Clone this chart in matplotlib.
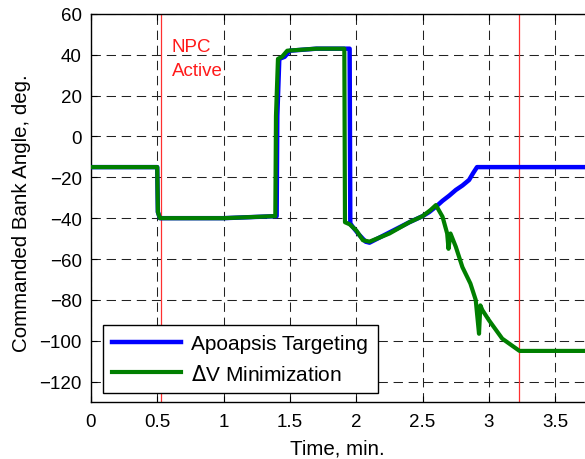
import matplotlib
matplotlib.use("Agg")
import matplotlib.pyplot as plt

plt.rcParams['font.family'] = ['Liberation Sans', 'DejaVu Sans']

# Apoapsis Targeting
t_apo = [0.0, 0.50, 0.505, 0.52, 0.6, 1.0, 1.40, 1.405, 1.42, 1.46, 1.50, 1.70, 1.95, 1.955,
         1.97, 2.02, 2.07, 2.10, 2.25, 2.40, 2.50, 2.55, 2.60, 2.65, 2.70, 2.75, 2.80,
         2.85, 2.88, 2.91, 3.0, 3.5, 4.0]
v_apo = [-15, -15, -37, -40, -40, -40, -39, 10, 38, 39, 42, 43, 43, -42.5,
         -44, -48, -51.5, -52, -47, -42, -39, -37, -34.4, -31.5, -29, -26.2, -24,
         -21.3, -18, -15, -15, -15, -15]

# Delta-V Minimization
t_dv = [0.0, 0.50, 0.505, 0.52, 0.6, 1.0, 1.39, 1.395, 1.41, 1.44, 1.48, 1.70, 1.91, 1.915,
        1.95, 2.0, 2.05, 2.10, 2.25, 2.40, 2.50, 2.56, 2.60, 2.65, 2.685, 2.695, 2.71,
        2.75, 2.80, 2.86, 2.90, 2.925, 2.935, 2.95, 3.0, 3.1, 3.23, 3.5, 4.0]
v_dv = [-15, -15, -37, -40, -40, -40, -39, 10, 38, 39, 42, 43, 43, -42,
        -43, -46, -50.8, -51.5, -47.5, -42, -39, -36, -33.6, -39.3, -47.5, -55, -47.5,
        -54, -64, -72, -80, -96.6, -82.7, -85, -90, -99, -105, -105, -105]

npc_lines = [0.53, 3.23]

fig = plt.figure(figsize=(5.85, 4.6), dpi=100)
ax = fig.add_axes([0.1553, 0.124, 0.9074, 0.8435])

ax.plot(t_apo, v_apo, color='#0000ff', lw=3.2, label='Apoapsis Targeting', zorder=3)
ax.plot(t_dv, v_dv, color='#007f00', lw=3.0, label=r'$\Delta$V Minimization', zorder=4)
for xv in npc_lines:
    ax.axvline(xv, color='#ff3030', lw=0.9, zorder=2)

ax.text(0.61, 44, 'NPC', color='#ff1a1a', fontsize=13.5, va='center', ha='left')
ax.text(0.61, 32.5, 'Active', color='#ff1a1a', fontsize=13.5, va='center', ha='left')

ax.set_xlim(0, 4)
ax.set_ylim(-130, 60)
ax.set_xticks([0, 0.5, 1, 1.5, 2, 2.5, 3, 3.5])
ax.set_xticklabels(['0', '0.5', '1', '1.5', '2', '2.5', '3', '3.5'])
ax.set_yticks(list(range(-120, 61, 20)))
ax.grid(True, color='#222222', linestyle=(0, (9, 5.5)), lw=0.75)
ax.tick_params(direction='in', top=True, right=True, labelsize=13.5, length=4)
ax.tick_params(axis='x', pad=8)
ax.tick_params(axis='y', pad=6.5)
for s in ax.spines.values():
    s.set_linewidth(1.0)

ax.set_xlabel('Time, min.', fontsize=14.8)
ax.xaxis.set_label_coords(0.464, -0.094)
ax.set_ylabel('Commanded Bank Angle, deg.', fontsize=14.8)
ax.yaxis.set_label_coords(-0.113, 0.49)

leg = ax.legend(loc='lower left', bbox_to_anchor=(0.0226, 0.023), borderaxespad=0,
                fontsize=15, fancybox=False, framealpha=1, edgecolor='black',
                handlelength=3.3, handletextpad=0.5, borderpad=0.45, labelspacing=0.5)
leg.get_frame().set_linewidth(1.0)

fig.savefig('out.png', dpi=100)
